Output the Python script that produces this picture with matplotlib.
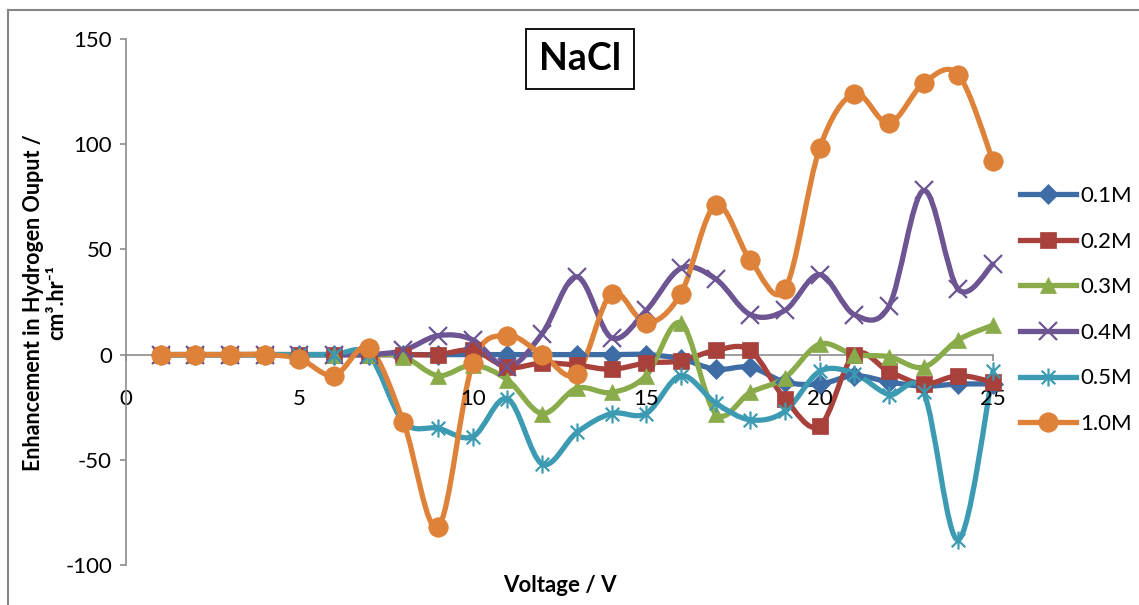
import numpy as np
import matplotlib
matplotlib.use("Agg")
import matplotlib.pyplot as plt
from matplotlib.path import Path
from matplotlib.patches import PathPatch
from matplotlib.lines import Line2D

plt.rcParams['font.family'] = ['Lato', 'DejaVu Sans']
plt.rcParams['axes.unicode_minus'] = False

# data
voltage = list(range(1, 26))
labels = ["0.1M", "0.2M", "0.3M", "0.4M", "0.5M", "1.0M"]

m01 = [0, 0, 0, 0, 0, 0, 0, 0, 0, 0, 0, 0, 0, 0, 0, -2, -7, -6, -13, -14, -10, -13, -15, -14, -14]
m02 = [0, 0, 0, 0, 0, 0, 0, 0, 0, 2, -6, -4, -5, -7, -4, -3, 2, 2, -21, -34, 0, -8, -14, -10, -13]
m03 = [0, 0, 0, 0, 0, 0, 0, -1, -10, -5, -12, -28, -16, -18, -10, 15, -28, -18, -11, 5, 0, -1, -6, 7, 14]
m04 = [0, 0, 0, 0, 0, 0, 0, 2, 9, 7, -6, 10, 37, 8, 21, 41, 36, 19, 21, 38, 19, 23, 78, 31, 43]
m05 = [0, 0, 0, 0, 0, 0, 0, -32, -35, -39, -21, -52, -37, -28, -28, -10, -23, -31, -27, -8, -9, -19, -18, -88, -8]
m10 = [0, 0, 0, 0, -2, -10, 3, -32, -82, -4, 9, 0, -9, 29, 15, 29, 71, 45, 31, 98, 124, 110, 129, 133, 92]

colors = ["#3E6DA6", "#A8403C", "#8AAB4A", "#6C5592", "#3C9BB2", "#DE8239"]

# asterisk like Excel's: vertical bar plus an X
star = Path([(0, -1), (0, 1), (-0.75, -0.75), (0.75, 0.75), (-0.75, 0.75), (0.75, -0.75)],
            [Path.MOVETO, Path.LINETO, Path.MOVETO, Path.LINETO, Path.MOVETO, Path.LINETO])
markers = ["D", "s", "^", "x", star, "o"]
msizes = [10, 12, 12, 13, 13, 14]


def smooth_path(x, y):
    # Excel style smoothed line: cubic bezier through every point
    pts = np.column_stack([x, y]).astype(float)
    n = len(pts)
    verts = [pts[0]]
    codes = [Path.MOVETO]
    for i in range(n - 1):
        p0 = pts[max(i - 1, 0)]
        p1 = pts[i]
        p2 = pts[i + 1]
        p3 = pts[min(i + 2, n - 1)]
        verts += [p1 + (p2 - p0) / 6, p2 - (p3 - p1) / 6, p2]
        codes += [Path.CURVE4] * 3
    return Path(verts, codes)


fig = plt.figure(figsize=(11.39, 6.05), dpi=100)
ax = fig.add_axes([126 / 1139, 40 / 605, 867 / 1139, 526 / 605])

series = [m01, m02, m03, m04, m05, m10]
handles = []
for vals, col, mk, ms, lab in zip(series, colors, markers, msizes, labels):
    ax.add_patch(PathPatch(smooth_path(voltage, vals), fill=False, edgecolor=col,
                           lw=3.8, capstyle="round", joinstyle="round", clip_on=False))
    thin = lab in ("0.4M", "0.5M")
    ax.plot(voltage, vals, linestyle="none", marker=mk, markersize=ms, clip_on=False,
            color=col, markeredgewidth=1.6 if thin else 0.5)
    handles.append(Line2D([], [], color=col, lw=3.8, marker=mk, markersize=ms,
                          markeredgewidth=1.6 if thin else 0.5))

ax.set_xlim(0, 25)
ax.set_ylim(-100, 150)
ax.set_xticks([0, 5, 10, 15, 20, 25])
ax.set_yticks([-100, -50, 0, 50, 100, 150])

ax.spines["top"].set_visible(False)
ax.spines["right"].set_visible(False)
ax.spines["bottom"].set_position(("data", 0))
for s in ("left", "bottom"):
    ax.spines[s].set_color("#8C8C8C")
    ax.spines[s].set_linewidth(1.2)
ax.spines["bottom"].set_zorder(0.5)
ax.tick_params(axis="both", colors="#8C8C8C", labelcolor="black", labelsize=16,
               length=4, width=1.2, direction="out")
ax.tick_params(axis="x", pad=21)
ax.tick_params(axis="y", pad=6)

ax.text(0.524, 0.962, "NaCl", transform=ax.transAxes, ha="center", va="center",
        fontsize=27, fontweight="bold",
        bbox=dict(boxstyle="square,pad=0.35", facecolor="white", edgecolor="black", lw=1.3))

fig.text(560 / 1139, 1 - 585 / 605, "Voltage / V", ha="center", va="center",
         fontsize=16, fontweight="bold")
fig.text(45 / 1139, 1 - 303 / 605, "Enhancement in Hydrogen Ouput /\ncm³.hr⁻¹",
         rotation=90, ha="center", va="center", multialignment="center",
         fontsize=15.5, fontweight="bold", linespacing=1.1)

fig.legend(handles, labels, loc="center left", bbox_to_anchor=(1000 / 1139, 1 - 310 / 605),
           frameon=False, fontsize=16, handlelength=2.5, handletextpad=0.2,
           labelspacing=1.15)

# chart area border
fig.add_artist(Line2D([8 / 1139, 8 / 1139], [0, 1 - 10 / 605], color="#868686", lw=1.5))
fig.add_artist(Line2D([8 / 1139, 1], [1 - 10 / 605, 1 - 10 / 605], color="#868686", lw=1.5))

fig.savefig("out.png", dpi=100)
